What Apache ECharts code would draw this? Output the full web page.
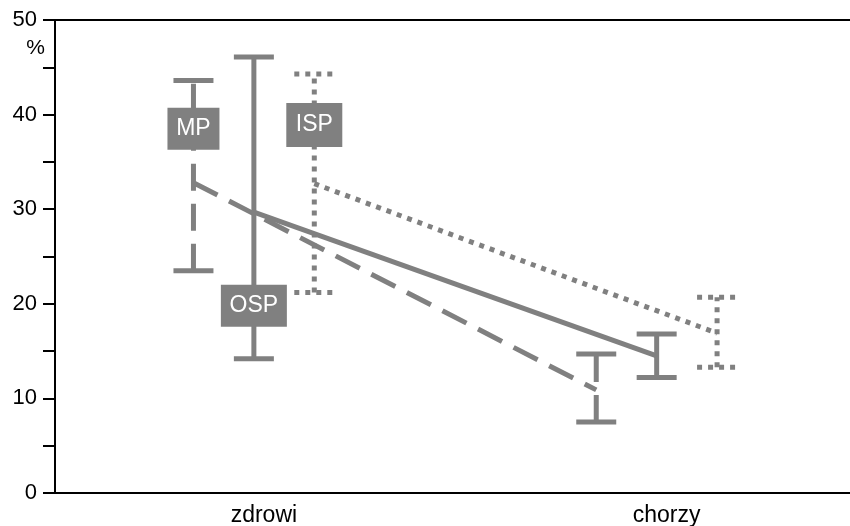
<!DOCTYPE html>
<html>
<head>
<meta charset="utf-8">
<script src="https://cdn.jsdelivr.net/npm/echarts@6/dist/echarts.min.js"></script>
<style>
  html, body { margin: 0; padding: 0; background: #fff; }
  #chart { width: 850px; height: 526px; }
</style>
</head>
<body>
<div id="chart"></div>
<script>
// Groups and their positions on the horizontal value axis
const categories = ['zdrowi', 'chorzy'];
const categoryPos = [1, 3];
const groupNames = ['MP', 'OSP', 'ISP'];
const groupOffset = [-0.3, 0, 0.3];

// Mean values (%) per group, for zdrowi and chorzy
const meanMP = [32.8, 10.9];
const meanOSP = [29.7, 14.5];
const meanISP = [32.7, 16.9];

// Range lower / upper bounds (%)
const lowMP = [23.5, 7.5];
const highMP = [43.6, 14.7];
const lowOSP = [14.2, 12.2];
const highOSP = [46.1, 16.8];
const lowISP = [21.2, 13.3];
const highISP = [44.3, 20.7];

// Name-tag positions (x in axis units, y in %)
const tagX = [0.7, 1.0, 1.3];
const tagY = [38.5, 19.8, 38.9];

// Y axis ticks
const yTickLabels = [0, 10, 20, 30, 40, 50];

const GRAY = '#808080';
const FONT = 'Liberation Sans, Arial, sans-serif';

const means = [meanMP, meanOSP, meanISP];
const lows = [lowMP, lowOSP, lowISP];
const highs = [highMP, highOSP, highISP];
const dashes = [[27, 13], null, [5, 6]];
const capDashes = [null, null, [5, 6]];

const lineSeries = groupNames.map((name, g) => ({
  name: name,
  type: 'line',
  z: 3,
  symbol: 'none',
  silent: true,
  data: categoryPos.map((p, i) => [p + groupOffset[g], means[g][i]]),
  lineStyle: {
    color: GRAY,
    width: 5,
    type: dashes[g] || 'solid',
    cap: 'butt'
  }
}));

const rangeSeries = groupNames.map((name, g) => ({
  name: name + ' range',
  type: 'custom',
  z: 2,
  silent: true,
  data: categoryPos.map((p, i) => [p + groupOffset[g], lows[g][i], highs[g][i]]),
  renderItem: function (params, api) {
    const x = api.value(0);
    const lo = api.coord([x, api.value(1)]);
    const hi = api.coord([x, api.value(2)]);
    const half = 20;
    const bodyStyle = { stroke: GRAY, lineWidth: 5, lineDash: dashes[g] || null, lineCap: 'butt' };
    const capStyle = { stroke: GRAY, lineWidth: 5, lineDash: capDashes[g], lineCap: 'butt' };
    return {
      type: 'group',
      children: [
        { type: 'line', shape: { x1: lo[0], y1: lo[1], x2: hi[0], y2: hi[1] }, style: bodyStyle },
        { type: 'line', shape: { x1: lo[0] - half, y1: lo[1], x2: lo[0] + half, y2: lo[1] }, style: capStyle },
        { type: 'line', shape: { x1: hi[0] - half, y1: hi[1], x2: hi[0] + half, y2: hi[1] }, style: capStyle }
      ]
    };
  }
}));

const tagSizes = [[52, 42], [66, 42], [56, 44]];
const tagSeries = {
  name: 'tags',
  type: 'scatter',
  z: 5,
  silent: true,
  data: groupNames.map((n, g) => ({
    value: [tagX[g], tagY[g]],
    name: n,
    symbolSize: tagSizes[g]
  })),
  symbol: 'rect',
  itemStyle: { color: GRAY, opacity: 1 },
  label: {
    show: true,
    position: 'inside',
    formatter: '{b}',
    color: '#fff',
    fontSize: 23,
    fontFamily: FONT
  }
};

const X_MIN = 0.0125;
const X_MAX = 3.96;

const chart = echarts.init(document.getElementById('chart'), null, { renderer: 'canvas' });
chart.setOption({
  animation: false,
  backgroundColor: '#fff',
  grid: { left: 55, right: 0, top: 20, bottom: 33, outerBoundsMode: 'none' },
  xAxis: [
    {
      type: 'value',
      min: X_MIN,
      max: X_MAX,
      axisLine: { show: true, lineStyle: { color: '#000', width: 2 } },
      axisTick: { show: false },
      splitLine: { show: false },
      axisLabel: {
        color: '#000',
        fontSize: 23,
        fontFamily: FONT,
        margin: 11,
        padding: [0, 0, 0, 20],
        customValues: categoryPos,
        formatter: function (v) {
          const i = categoryPos.indexOf(Math.round(v * 1000) / 1000);
          return i >= 0 ? categories[i] : '';
        }
      }
    },
    {
      type: 'value',
      position: 'top',
      min: X_MIN,
      max: X_MAX,
      axisLine: { show: true, lineStyle: { color: '#000', width: 2 } },
      axisTick: { show: false },
      axisLabel: { show: false },
      splitLine: { show: false }
    }
  ],
  yAxis: {
    type: 'value',
    min: 0,
    max: 50,
    interval: 5,
    name: '%',
    nameLocation: 'end',
    nameGap: 0,
    nameTextStyle: {
      color: '#000',
      fontSize: 21,
      fontFamily: FONT,
      align: 'right',
      verticalAlign: 'top',
      padding: [18, 10, 0, 0]
    },
    axisLine: { show: true, lineStyle: { color: '#000', width: 2 } },
    axisTick: { show: true, inside: false, length: 12, lineStyle: { color: '#000', width: 2 } },
    splitLine: { show: false },
    axisLabel: {
      color: '#000',
      fontSize: 22,
      fontFamily: FONT,
      margin: 18,
      formatter: function (v) {
        return yTickLabels.indexOf(v) >= 0 ? String(v) : '';
      }
    }
  },
  series: [].concat(rangeSeries, lineSeries, [tagSeries])
});
</script>
</body>
</html>
